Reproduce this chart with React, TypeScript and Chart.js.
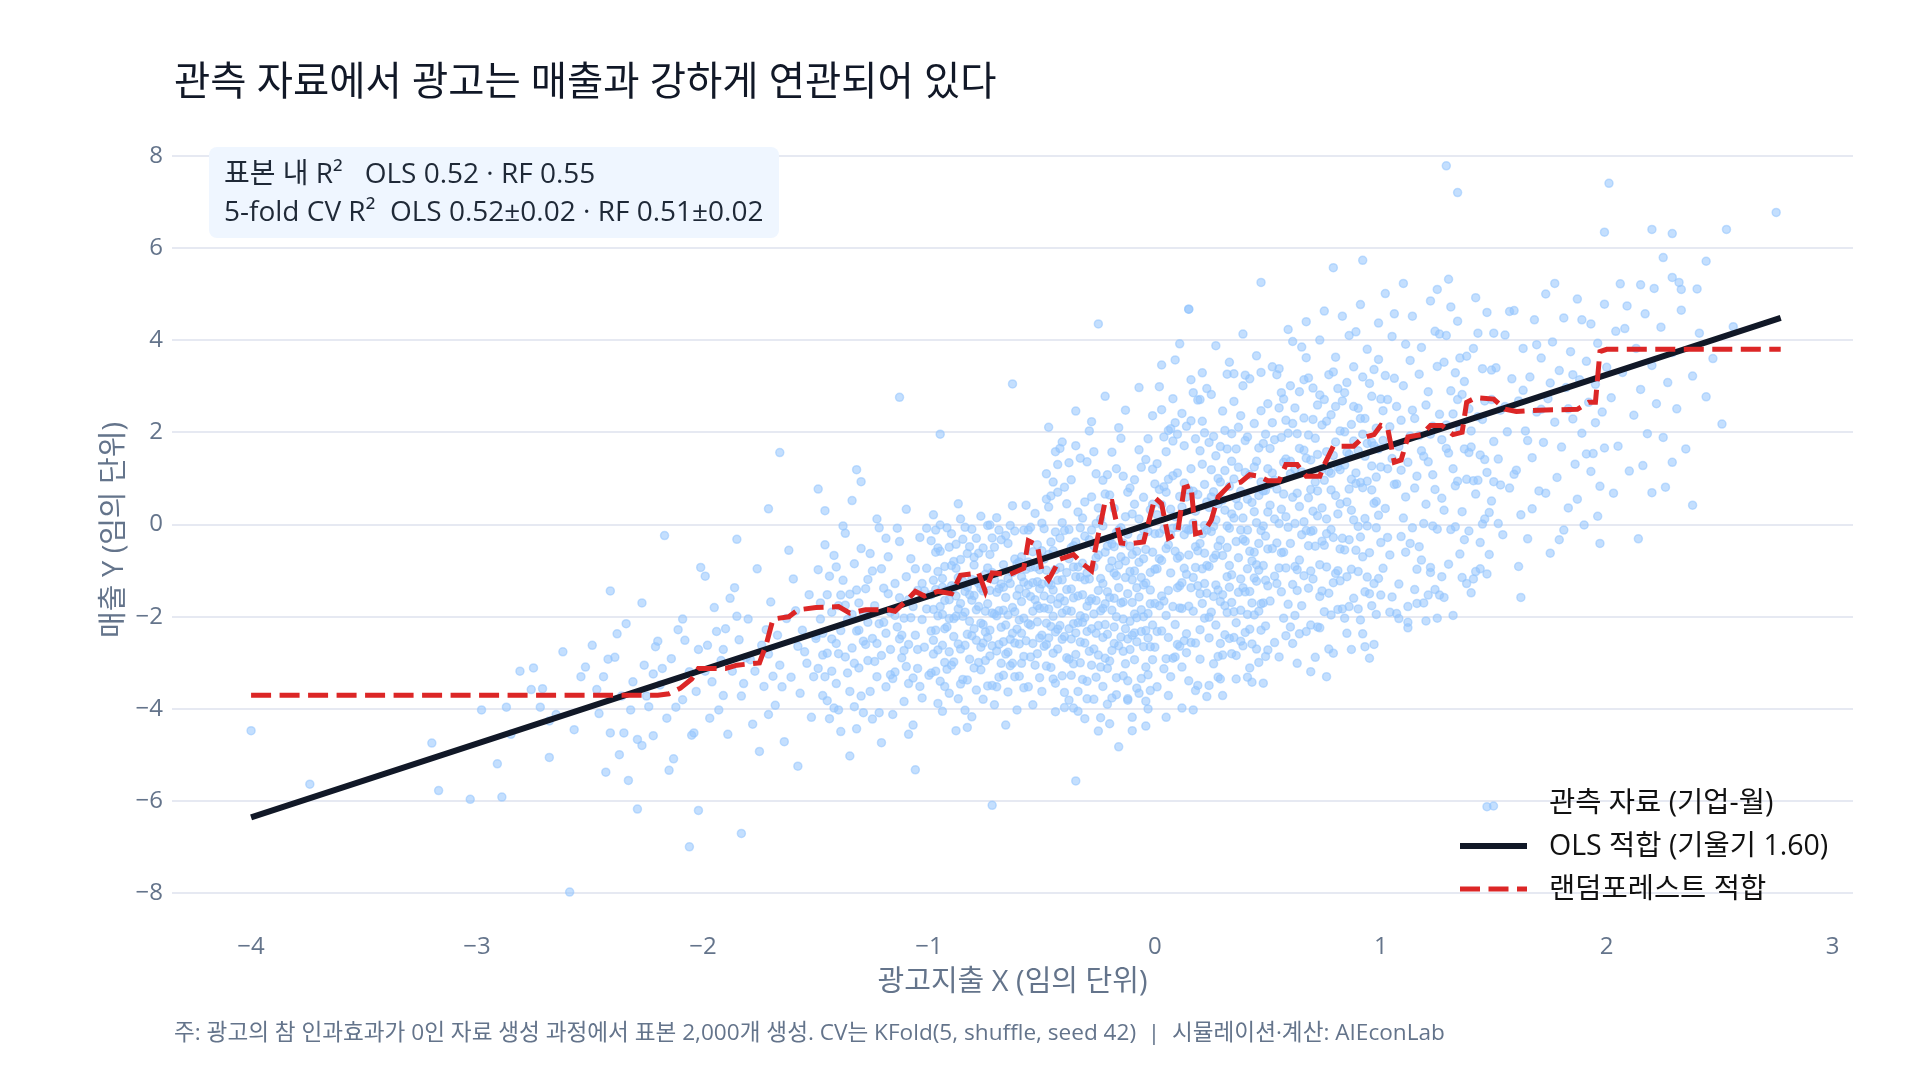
import React, { useEffect, useRef } from "react";
import { Chart, registerables } from "chart.js";

Chart.register(...registerables);

const FONT = '"Open Sans", "Noto Sans CJK KR", sans-serif';

// Axis ticks
const xTickValues = [-4, -3, -2, -1, 0, 1, 2, 3];
const yTickValues = [-8, -6, -4, -2, 0, 2, 4, 6, 8];

// Texts
const titleText = "관측 자료에서 광고는 매출과 강하게 연관되어 있다";
const xAxisTitle = "광고지출 X (임의 단위)";
const yAxisTitle = "매출 Y (임의 단위)";
const statLines = [
  "표본 내 R²   OLS 0.52 · RF 0.55",
  "5-fold CV R²  OLS 0.52±0.02 · RF 0.51±0.02",
];
const legendLabels = ["관측 자료 (기업-월)", "OLS 적합 (기울기 1.60)", "랜덤포레스트 적합"];
const noteText =
  "주: 광고의 참 인과효과가 0인 자료 생성 과정에서 표본 2,000개 생성. CV는 KFold(5, shuffle, seed 42)  |  시뮬레이션·계산: AIEconLab";

// OLS fit endpoints (slope 1.60)
const olsX = [-4.0, 2.77];
const olsY = [-6.35, 4.48];

// Random forest prediction path
const rfX = [-4.0, -2.2, -2.15, -2.1, -2.05, -2.02, -1.9, -1.85, -1.75, -1.72, -1.69, -1.62, -1.58, -1.5, -1.4, -1.35, -1.28, -1.18, -1.15, -1.1, -1.06, -1.02, -0.96, -0.9, -0.86, -0.78, -0.75, -0.72, -0.64, -0.58, -0.56, -0.52, -0.5, -0.47, -0.42, -0.36, -0.32, -0.28, -0.26, -0.22, -0.19, -0.15, -0.12, -0.05, 0.0, 0.03, 0.06, 0.1, 0.13, 0.16, 0.18, 0.22, 0.25, 0.28, 0.33, 0.38, 0.42, 0.46, 0.5, 0.55, 0.58, 0.63, 0.67, 0.73, 0.75, 0.79, 0.88, 0.92, 0.97, 1.0, 1.03, 1.06, 1.09, 1.12, 1.18, 1.22, 1.27, 1.32, 1.36, 1.38, 1.42, 1.5, 1.55, 1.6, 1.7, 1.87, 1.92, 1.95, 1.97, 2.0, 2.77];
const rfY = [-3.7, -3.7, -3.67, -3.55, -3.35, -3.12, -3.12, -3.05, -3.0, -2.6, -2.05, -2.0, -1.85, -1.8, -1.78, -1.92, -1.85, -1.85, -1.88, -1.65, -1.45, -1.55, -1.45, -1.5, -1.1, -1.05, -1.45, -1.05, -1.08, -0.95, -0.35, -0.45, -1.0, -1.2, -0.75, -0.65, -0.85, -1.0, -0.45, 0.5, 0.5, -0.4, -0.42, -0.38, 0.58, 0.45, -0.3, -0.2, 0.8, 0.85, -0.2, -0.15, 0.1, 0.6, 0.85, 0.92, 1.08, 1.05, 0.95, 0.95, 1.3, 1.3, 1.05, 1.05, 1.3, 1.7, 1.7, 1.88, 1.95, 2.15, 2.1, 1.35, 1.4, 1.9, 1.95, 2.15, 2.15, 1.95, 2.0, 2.65, 2.75, 2.72, 2.5, 2.45, 2.48, 2.5, 2.65, 2.65, 3.75, 3.8, 3.8];

// Observations: flat (x, y) pairs in hundredths of a unit
const obsTails = [-400,-447, -374,-563, -320,-474, -317,-577, -303,-596, -289,-591, -287,-396, -275,-311, -272,-396, -271,-356, -268,-426, -259,-797, -252,-309, -243,-537, -241,-144, -238,-237, -235,-452, -233,-555, -229,-617, -227,-479, -225,-372, -222,-324, -220,-253, -217,-24, -215,-533, -212,-396, -209,-205, -206,-699, -205,-457, -202,-620, -201,-93, -199,-112, -191,-271, -183,-670, -185,-32, -166,156, -171,34, -171,-412, -158,-524, -149,77, -132,119, -130,93, -113,276, -95,196, -106,-532, -109,-455, -72,-609, -63,305, -25,435, -35,-556, -12,-378, -10,-447, -4,-383, 15,467, 47,525, 79,557, 92,573, 76,-330, 69,-319, 129,778, 134,720, 201,740, 199,634, 220,640, 229,631, 225,579, 244,571, 253,640, 275,677, 215,520, 233,510, 229,536, 238,42, 229,135, 220,69, 196,18, 147,-612, 162,-158, 152,2, 122,-104, 112,-224, 125,-203];

const obsBandBelow2 = [-249,-262, -246,-410, -244,-330, -241,-452, -239,-288, -236,-372, -234,-215, -231,-341, -229,-466, -226,-305, -224,-395, -221,-265, -219,-348, -216,-420, -214,-291, -211,-228, -209,-380, -206,-319, -204,-452, -202,-271, -247,-358, -237,-499, -227,-170, -218,-312, -208,-251, -203,-362, -213,-508, -232,-402, -222,-458, -242,-292, -298,-402, -285,-455, -276,-358, -265,-412, -262,-276, -257,-445, -254,-330, -291,-519, -268,-505, -281,-318];

const obsBand20to15 = [-198,-262, -196,-341, -195,-180, -193,-402, -192,-295, -190,-226, -189,-455, -187,-318, -186,-137, -184,-250, -183,-372, -181,-289, -180,-205, -178,-433, -177,-318, -176,-96, -174,-262, -173,-351, -171,-281, -170,-168, -168,-392, -167,-240, -166,-305, -164,-471, -163,-204, -161,-331, -160,-118, -158,-264, -157,-366, -156,-229, -154,-301, -153,-152, -152,-418, -150,-247, -199,-318, -191,-371, -185,-199, -179,-293, -172,-228, -165,-352, -159,-187, -155,-276, -162,-56, -175,-492, -169,-329, -188,-160, -182,-345, -194,-232, -151,-330, -197,-420];

const obsBand15to10 = [-149,-312, -149,-98, -148,-205, -147,-371, -147,-236, -146,-44, -145,-279, -145,-152, -144,-421, -143,-190, -143,-318, -142,-67, -141,-258, -141,-345, -140,-176, -139,-230, -139,-449, -138,-121, -137,-287, -137,-19, -136,-206, -135,-362, -135,-151, -134,-268, -133,-395, -133,-85, -132,-231, -131,-311, -131,-170, -130,-52, -129,-253, -129,-408, -128,-139, -127,-295, -127,-212, -126,-362, -125,-101, -125,-247, -124,-176, -123,-330, -123,12, -122,-215, -121,-284, -121,-473, -120,-138, -119,-236, -119,-352, -118,-70, -117,-190, -117,-271, -116,-412, -115,-128, -115,-320, -114,-222, -113,-37, -113,-159, -112,-289, -111,-384, -111,-203, -110,-113, -109,-260, -109,-345, -108,-74, -107,-178, -107,-435, -106,-240, -105,-312, -105,-143, -104,-28, -103,-206, -103,-376, -102,-266, -101,-95, -101,-183, -100,-327, -148,-170, -146,-330, -144,-112, -142,-398, -140,-280, -138,-3, -136,-322, -134,-195, -132,-142, -130,-372, -128,-260, -126,-63, -124,-297, -122,-408, -120,-212, -118,-150, -116,-334, -114,-8, -112,-240, -110,-308, -108,-202, -106,-96, -104,-351, -102,-144, -147,-283, -143,-248, -139,-153, -135,-502, -131,-229, -127,-119, -123,-258, -119,-30, -115,-197, -111,-273, -107,-333, -103,-128, -145,-382, -141,-92, -137,-175, -133,-301, -129,-191, -125,-422, -121,-96, -117,-326, -113,-248, -109,-163, -105,-271, -101,-8, -150,-241, -146,30, -134,52, -122,-7, -110,33, -126,-190, -132,-443, -140,-402];

const obsBand10to05 = [-99,-152, -98,-281, -97,-60, -96,-198, -95,-340, -94,-117, -93,-226, -92,-7, -91,-163, -90,-305, -89,-243, -88,-95, -87,-378, -86,-171, -85,-32, -84,-262, -83,-136, -82,-210, -81,-417, -80,-88, -79,-185, -78,-299, -77,18, -76,-144, -75,-233, -74,-350, -73,-65, -72,-192, -71,-120, -70,-274, -69,-12, -68,-223, -67,-327, -66,-158, -65,-41, -64,-249, -63,-104, -62,-189, -61,-402, -60,-81, -59,-167, -58,-286, -57,42, -56,-131, -55,-218, -54,-59, -53,-305, -52,-176, -51,-98, -50,-240,
  -99,-35, -98,-121, -97,-229, -96,-388, -95,-178, -94,-262, -93,-91, -92,-314, -91,-49, -90,-133, -89,-204, -88,-447, -87,-115, -86,-270, -85,-199, -84,-6, -83,-337, -82,-152, -81,-241, -80,-71, -79,-359, -78,-128, -77,-214, -76,-51, -75,-295, -74,-172, -73,-229, -72,-104, -71,-391, -70,-147, -69,-260, -68,-33, -67,-186, -66,-281, -65,-117, -64,-2, -63,-236, -62,-330, -61,-154, -60,-207, -59,-70, -58,-125, -57,-252, -56,-352, -55,-93, -54,-188, -53,24, -52,-280, -51,-139, -50,-57,
  -99,-231, -98,21, -97,-318, -96,-102, -95,-58, -94,-405, -93,-165, -92,-222, -91,-276, -90,-20, -89,-137, -88,-199, -87,-259, -86,-76, -85,-336, -84,-145, -83,-63, -82,-292, -81,-119, -80,-226, -79,-30, -78,-178, -77,-315, -76,-257, -75,-108, -74,-2, -73,-285, -72,-349, -71,-49, -70,-198, -69,-139, -68,-301, -67,-87, -66,-218, -65,-363, -64,-128, -63,41, -62,-257, -61,-85, -60,-329, -59,-236, -58,-12, -57,-149, -56,-215, -55,-287, -54,-126, -53,-163, -52,-44, -51,-332, -50,-129,
  -99,-322, -98,-184, -97,-141, -96,-272, -95,-1, -94,-195, -93,-299, -92,-143, -91,-366, -90,-89, -89,-298, -88,-43, -87,-183, -86,-346, -85,-123, -84,-190, -83,-238, -82,-48, -81,-164, -80,-311, -79,-251, -78,-62, -77,-138, -76,-379, -75,-188, -74,-94, -73,-143, -72,-263, -71,-194, -70,15, -69,-331, -68,-129, -67,-254, -66,-24, -65,-196, -64,-306, -63,-180, -62,-75, -61,-227, -60,-140, -59,-301, -58,-203, -57,-97, -56,-12, -55,-156, -54,-258, -53,-92, -52,-211, -51,-182, -50,-362,
  -98,-251, -96,-51, -93,-351, -91,-204, -88,-155, -86,12, -84,-403, -81,-10, -79,-122, -77,-266, -74,-245, -72,-29, -70,-352, -67,-136, -65,-277, -63,-301, -60,-259, -58,-354, -56,-81, -54,-391, -52,-124, -50,3, -97,-12, -94,-136, -89,-80, -87,45, -83,-440, -80,-154, -76,-217, -73,-1, -69,-187, -66,-435, -62,-14, -59,-113, -55,-6, -51,-246];

const obsBand05to00 = [-49,-75, -48,-214, -47,38, -46,-131, -45,-279, -44,-16, -43,-172, -42,-93, -41,-328, -40,81, -39,-141, -38,-226, -37,-50, -36,-302, -35,-113, -34,27, -33,-198, -32,-84, -31,-257, -30,136, -29,-33, -28,-161, -27,-379, -26,-72, -25,-219, -24,12, -23,-128, -22,-290, -21,-47, -20,64, -19,-186, -18,-105, -17,-332, -16,-12, -15,-244, -14,105, -13,-79, -12,-150, -11,-271, -10,23, -9,-194, -8,-58, -7,-366, -6,-115, -5,59, -4,-230, -3,-15, -2,-142, -1,-293, 0,88,
  -49,-181, -48,55, -47,-246, -46,-38, -45,-142, -44,-344, -43,70, -42,-219, -41,-120, -40,-13, -39,-289, -38,134, -37,-188, -36,-92, -35,-235, -34,-405, -33,-7, -32,-152, -31,49, -30,-232, -29,-118, -28,-12, -27,-194, -26,110, -25,-66, -24,-309, -23,-3, -22,-172, -21,-238, -20,-94, -19,157, -18,-222, -17,-17, -16,-137, -15,-70, -14,-275, -13,17, -12,-339, -11,-102, -10,-169, -9,44, -8,-254, -7,-82, -6,124, -5,-200, -4,-127, -3,-326, -2,32, -1,-60, 0,-171,
  -49,-9, -48,-307, -47,-126, -46,-221, -45,92, -44,-98, -43,-270, -42,-29, -41,-192, -40,-364, -39,45, -38,-74, -37,-248, -36,-159, -35,171, -34,-213, -33,-114, -32,-336, -31,-25, -30,-177, -29,-275, -28,60, -27,-92, -26,-236, -25,-143, -24,-419, -23,96, -22,-60, -21,-146, -20,-296, -19,-42, -18,35, -17,-200, -16,-263, -15,187, -14,-168, -13,-226, -12,-21, -11,79, -10,-120, -9,-293, -8,-137, -7,12, -6,-232, -5,-74, -4,141, -3,-193, -2,-265, -1,44, 0,-97,
  -49,-155, -48,-99, -47,-183, -46,-310, -45,-57, -44,158, -43,-227, -42,-159, -41,4, -40,-243, -39,-104, -38,-292, -37,97, -36,-215, -35,-38, -34,-155, -33,-255, -32,14, -31,-120, -30,-340, -29,203, -28,-226, -27,-46, -26,-165, -25,36, -24,-187, -23,-245, -22,66, -21,-312, -20,-158, -19,-79, -18,-258, -17,121, -16,-88, -15,-170, -14,-40, -13,-302, -12,70, -11,-210, -10,-65, -9,97, -8,-355, -7,-157, -6,-29, -5,-265, -4,-54, -3,186, -2,-104, -1,-218, 0,-20,
  -48,110, -46,-162, -44,-233, -43,-121, -41,-249, -39,-186, -38,-11, -36,-46, -34,-92, -33,144, -31,-202, -29,-166, -27,-270, -26,2, -24,-117, -22,-217, -21,108, -19,-273, -17,-111, -16,210, -14,-205, -13,-115, -11,-47, -10,-240, -8,-202, -7,162, -5,-131, -4,-309, -2,-172, -1,120, -49,-264, -47,-65, -45,-199, -42,165, -40,-166, -37,-327, -35,-282, -32,-212, -30,-105, -28,-305, -25,-283, -23,-182, -20,-32, -18,-160, -15,-7, -12,-248, -9,-101, -6,-185, -3,-246, 0,-266,
  -47,211, -44,-406, -41,179, -38,-381, -35,246, -31,-421, -28,223, -25,-448, -22,278, -19,-376, -16,-482, -13,248, -10,-418, -7,297, -4,-437, -1,236, -45,-335, -40,-397, -34,-362, -30,-378, -26,-331, -21,-390, -17,-369, -12,-381, -6,-334, -3,-400, -48,-260, -43,130, -37,-140, -33,-300, -27,158, -23,-351, -18,-48, -14,-328, -9,-235, -5,-11, -2,-360, -46,62, -36,-398, -20,-432];

const obsBand00to05 = [1,-96, 2,76, 3,-231, 4,-10, 5,158, 6,-143, 7,33, 8,-290, 9,-58, 10,112, 11,-181, 12,241, 13,-22, 14,-108, 15,75, 16,-256, 17,3, 18,186, 19,-133, 20,-41, 21,131, 22,-203, 23,49, 24,-91, 25,282, 26,-156, 27,10, 28,-331, 29,92, 30,-67, 31,204, 32,-113, 33,-8, 34,137, 35,-245, 36,56, 37,-147, 38,236, 39,-32, 40,113, 41,-195, 42,316, 43,-79, 44,28, 45,-270, 46,166, 47,-13, 48,73, 49,-121, 50,262,
  1,132, 2,-176, 3,43, 4,-313, 5,-52, 6,204, 7,-105, 8,106, 9,-217, 10,-6, 11,61, 12,-126, 13,171, 14,-278, 15,-66, 16,121, 17,-188, 18,29, 19,270, 20,-228, 21,-96, 22,87, 23,-149, 24,178, 25,-15, 26,-302, 27,149, 28,-47, 29,-167, 30,53, 31,-239, 32,326, 33,-89, 34,-169, 35,99, 36,-37, 37,211, 38,-253, 39,14, 40,-146, 41,190, 42,-58, 43,-342, 44,125, 45,4, 46,-188, 47,247, 48,-89, 49,-25, 50,121,
  1,-232, 2,-19, 3,249, 4,82, 5,-197, 6,-44, 7,-330, 8,181, 9,17, 10,-137, 11,-264, 12,38, 13,-95, 14,213, 15,-177, 16,-10, 17,72, 18,-93, 19,-349, 20,160, 21,-20, 22,-128, 23,295, 24,-246, 25,119, 26,-73, 27,-218, 28,45, 29,-34, 30,246, 31,31, 32,-191, 33,83, 34,-280, 35,14, 36,164, 37,-72, 38,-186, 39,301, 40,-36, 41,-96, 42,108, 43,-170, 44,219, 45,-123, 46,-41, 47,-229, 48,176, 49,74, 50,-133,
  1,21, 2,-74, 3,-155, 4,190, 5,-291, 6,98, 7,-22, 8,-178, 9,221, 10,-260, 11,-69, 12,-182, 13,90, 14,-9, 15,-339, 16,225, 17,-115, 18,-48, 19,65, 20,-292, 21,224, 22,-2, 23,-89, 24,-201, 25,60, 26,191, 27,-131, 28,100, 29,-258, 30,-152, 31,117, 32,-50, 33,-247, 34,23, 35,267, 36,-213, 37,41, 38,-118, 39,-263, 40,182, 41,-12, 42,-227, 43,48, 44,-60, 45,137, 46,-299, 47,92, 48,-170, 49,196, 50,-53,
  2,299, 4,-166, 6,-245, 8,-8, 10,-73, 12,-309, 14,60, 16,-137, 18,-257, 20,-150, 22,199, 24,37, 26,71, 28,-142, 30,-283, 32,164, 34,-109, 36,-284, 38,72, 40,-234, 42,-145, 44,-196, 46,63, 48,-3, 50,-272, 1,-352, 3,-78, 5,70, 7,208, 9,-287, 11,-133, 13,-252, 15,-12, 17,286, 19,-57, 21,-171, 23,-12, 25,-190, 27,-66, 29,169, 31,-176, 33,-136, 35,-189, 37,124, 39,-137, 41,55, 43,-259, 45,-87, 47,-172, 49,-220,
  3,346, 6,-371, 9,357, 12,-398, 15,467, 18,-360, 21,329, 24,-349, 27,388, 30,-371, 33,352, 36,-335, 39,413, 42,-311, 45,366, 48,-344, 5,-418, 11,392, 17,-402, 23,-373, 29,-335, 35,327, 41,-331, 47,330, 8,273, 14,-237, 20,271, 26,-4, 32,-3, 38,-12, 44,-116, 50,27, 10,196, 22,-62, 34,197, 46,-99, 16,314, 28,-286, 40,324, 49,-286];

const obsBand05to10 = [51,87, 52,-52, 53,184, 54,-128, 55,253, 56,33, 57,-203, 58,142, 59,-6, 60,301, 61,59, 62,-91, 63,197, 64,-237, 65,114, 66,6, 67,362, 68,-138, 69,76, 70,228, 71,-47, 72,152, 73,-156, 74,36, 75,271, 76,-92, 77,115, 78,-11, 79,331, 80,63, 81,-184, 82,203, 83,-30, 84,129, 85,-113, 86,410, 87,31, 88,181, 89,-56, 90,252, 91,91, 92,-237, 93,148, 94,-3, 95,306, 96,75, 97,-128, 98,209, 99,20, 100,125,
  51,-166, 52,221, 53,12, 54,77, 55,-94, 56,286, 57,135, 58,-241, 59,198, 60,-41, 61,-130, 62,253, 63,68, 64,165, 65,-176, 66,231, 67,-13, 68,318, 69,-101, 70,29, 71,187, 72,-222, 73,281, 74,-36, 75,96, 76,158, 77,-149, 78,238, 79,-28, 80,363, 81,125, 82,-53, 83,268, 84,-203, 85,49, 86,152, 87,-97, 88,342, 89,112, 90,-4, 91,230, 92,80, 93,-146, 94,176, 95,-61, 96,278, 97,46, 98,-195, 99,164, 100,-39,
  51,165, 52,112, 53,-112, 54,325, 55,2, 56,-146, 57,66, 58,17, 59,-173, 60,137, 61,219, 62,2, 63,-143, 64,288, 65,-22, 66,-111, 67,144, 68,58, 69,-218, 70,296, 71,92, 72,19, 73,-87, 74,216, 75,-189, 76,12, 77,325, 78,111, 79,-126, 80,179, 81,23, 82,119, 83,-183, 84,286, 85,157, 86,-33, 87,217, 88,-160, 89,89, 90,-102, 91,-27, 92,196, 93,13, 94,380, 95,-150, 96,127, 97,171, 98,-7, 99,-117, 100,272,
  52,342, 54,-40, 56,189, 58,-94, 60,-222, 62,120, 64,39, 66,314, 68,-46, 70,-118, 72,259, 74,-144, 76,224, 78,-196, 80,-106, 82,45, 84,201, 86,-178, 88,10, 90,160, 92,320, 94,-114, 96,-176, 98,103, 100,-153, 53,-256, 57,272, 61,-258, 65,385, 69,140, 73,400, 77,-270, 81,295, 85,-236, 89,418, 93,-265, 97,336, 55,-287, 63,-301, 71,-288, 79,-279, 87,-271, 95,-290, 59,423, 67,440, 75,463, 83,452, 91,477, 99,437,
  51,42, 53,96, 56,-61, 58,226, 60,110, 62,-197, 64,-77, 66,161, 68,194, 70,-13, 72,73, 74,121, 76,-20, 78,75, 80,256, 82,-122, 84,-55, 86,77, 88,256, 90,-183, 92,-70, 94,94, 96,178, 98,50, 57,-60, 63,-98, 69,-15, 75,-45, 81,-100, 87,98, 93,230, 99,358, 55,338, 61,397, 67,-232, 73,-224, 79,150, 85,308, 91,-207, 97,-260];

const obsBand10to15 = [101,182, 102,35, 103,271, 104,-66, 105,143, 106,317, 107,88, 108,-129, 109,226, 110,14, 111,391, 112,135, 113,-41, 114,248, 115,79, 116,-97, 117,326, 118,160, 119,2, 120,259, 121,-153, 122,196, 123,108, 124,419, 125,-10, 126,239, 127,57, 128,352, 129,165, 130,-86, 131,290, 132,121, 133,-5, 134,441, 135,206, 136,28, 137,310, 138,-128, 139,251, 140,168, 141,382, 142,66, 143,234, 144,-39, 145,338, 146,141, 147,460, 148,26, 149,271, 150,180,
  101,-95, 102,323, 103,121, 104,212, 105,-157, 106,87, 107,256, 108,169, 109,-26, 110,301, 111,60, 112,-178, 113,192, 114,452, 115,230, 116,105, 117,-48, 118,384, 119,148, 120,44, 121,288, 122,-93, 123,213, 124,76, 125,343, 126,-153, 127,184, 128,31, 129,410, 130,155, 131,-11, 132,240, 133,329, 134,94, 135,-64, 136,282, 137,164, 138,365, 139,-14, 140,203, 141,95, 142,-102, 143,415, 144,151, 145,1, 146,268, 147,113, 148,-65, 149,335, 150,93,
  101,247, 103,-28, 105,408, 107,-193, 109,118, 111,-60, 113,356, 115,-141, 117,193, 119,-170, 121,136, 123,-3, 125,510, 127,-113, 129,216, 131,472, 133,84, 135,361, 137,-33, 139,156, 141,-118, 143,96, 145,228, 147,-107, 149,51, 102,501, 106,457, 110,523, 114,-7, 118,-77, 122,485, 126,413, 130,532, 134,271, 138,98, 142,492, 146,12, 150,415, 104,-190, 108,-204, 112,-212, 116,-171, 120,-209, 124,-141, 128,-158, 132,-197, 136,-115, 140,-148, 144,-96];

const obsBand15to20 = [151,340, 152,142, 153,248, 154,-22, 155,411, 156,201, 157,79, 158,316, 159,464, 160,118, 161,268, 162,21, 163,382, 164,203, 165,-31, 166,320, 167,145, 168,444, 169,244, 170,73, 171,361, 172,178, 173,500, 174,273, 175,-62, 176,396, 177,222, 178,102, 179,334, 180,168, 181,448, 182,297, 183,36, 184,375, 185,229, 186,131, 187,489, 188,314, 189,198, 190,-1, 191,354, 192,265, 193,435, 194,154, 195,304, 196,393, 197,83, 198,244, 199,478, 200,341, 153,86, 157,462, 161,-91, 165,182, 169,390, 173,68, 177,523, 181,-12, 185,325, 189,444, 193,115, 197,-41, 155,256, 159,109, 163,291, 167,34, 171,250, 175,307, 179,-33, 183,251, 187,55, 191,153, 195,221, 199,166];

const obsBandAbove2 = [202,275, 204,419, 205,170, 207,330, 208,425, 210,116, 212,237, 213,382, 215,293, 217,457, 218,197, 220,345, 222,262, 224,428, 225,189, 227,308, 229,373, 231,251, 233,465, 235,164, 238,322, 241,415, 244,277, 247,360, 251,218, 256,429, 203,68, 209,474, 214,-31, 221,512, 226,81, 232,525, 216,128, 206,522, 240,511];

const obsBands = [obsTails, obsBandBelow2, obsBand20to15, obsBand15to10, obsBand10to05, obsBand05to00, obsBand00to05, obsBand05to10, obsBand10to15, obsBand15to20, obsBandAbove2];

const COLORS = {
  point: "rgba(147, 197, 253, 0.55)",
  ols: "#111827",
  rf: "#dc2626",
  grid: "#e6e9f2",
  tick: "#64748b",
  title: "#111827",
  text: "#1f2937",
  boxBg: "#eff6ff",
};

function pairsToPoints(list: number[]) {
  const pts: { x: number; y: number }[] = [];
  for (let i = 0; i + 1 < list.length; i += 2) {
    pts.push({ x: list[i] / 100, y: list[i + 1] / 100 });
  }
  return pts;
}

const fmtTick = (v: number) => (v < 0 ? "\u2212" + Math.abs(v) : String(v));

// Text, stats box and legend drawn on top of the chart
const decorPlugin = {
  id: "decor",
  afterDraw(chart: any) {
    const ctx = chart.ctx as CanvasRenderingContext2D;
    const area = chart.chartArea;
    ctx.save();

    // title
    ctx.fillStyle = COLORS.title;
    ctx.font = `39.4px ${FONT}`;
    ctx.textAlign = "left";
    ctx.textBaseline = "middle";
    ctx.fillText(titleText, 174, 84);

    // stats box
    ctx.fillStyle = COLORS.boxBg;
    ctx.beginPath();
    (ctx as any).roundRect(209, 147, 570, 91, 8);
    ctx.fill();
    ctx.fillStyle = COLORS.text;
    ctx.font = `28px ${FONT}`;
    ctx.fillText(statLines[0], 224, 175);
    ctx.fillText(statLines[1], 224, 213);

    // axis titles
    ctx.fillStyle = COLORS.tick;
    ctx.font = `29px ${FONT}`;
    ctx.textAlign = "center";
    ctx.fillText(xAxisTitle, (area.left + area.right) / 2, 983);
    ctx.save();
    ctx.translate(115, (area.top + area.bottom) / 2 + 2);
    ctx.rotate(-Math.PI / 2);
    ctx.fillText(yAxisTitle, 0, 0);
    ctx.restore();

    // footnote
    ctx.textAlign = "left";
    ctx.font = `22.6px ${FONT}`;
    ctx.fillText(noteText, 174, 1034);

    // legend
    const symL = 1460;
    const symR = 1527;
    ctx.beginPath();
    ctx.arc((symL + symR) / 2, 806, 4, 0, Math.PI * 2);
    ctx.fillStyle = COLORS.point;
    ctx.fill();
    ctx.lineWidth = 1.5;
    ctx.strokeStyle = COLORS.point;
    ctx.stroke();

    ctx.beginPath();
    ctx.moveTo(symL, 846);
    ctx.lineTo(symR, 846);
    ctx.lineWidth = 6;
    ctx.strokeStyle = COLORS.ols;
    ctx.stroke();

    ctx.beginPath();
    ctx.setLineDash([20, 8.5]);
    ctx.moveTo(symL, 889);
    ctx.lineTo(symR, 889);
    ctx.lineWidth = 5;
    ctx.strokeStyle = COLORS.rf;
    ctx.stroke();
    ctx.setLineDash([]);

    const rows = [804, 847, 890];
    ctx.fillStyle = "#111111";
    ctx.font = `28.5px ${FONT}`;
    legendLabels.forEach((label, i) => ctx.fillText(label, 1549, rows[i]));

    ctx.restore();
  },
};

export default function App() {
  const canvasRef = useRef<HTMLCanvasElement | null>(null);

  useEffect(() => {
    const canvas = canvasRef.current;
    if (!canvas) return;

    const scatterPoints = obsBands.flatMap((band) => pairsToPoints(band));
    const olsPoints = olsX.map((x, i) => ({ x, y: olsY[i] }));
    const rfPoints = rfX.map((x, i) => ({ x, y: rfY[i] }));

    const chart = new Chart(canvas, {
      type: "scatter",
      data: {
        datasets: [
          {
            label: legendLabels[0],
            data: scatterPoints,
            pointRadius: 4,
            pointBackgroundColor: COLORS.point,
            pointBorderColor: COLORS.point,
            pointBorderWidth: 1.5,
            order: 3,
          },
          {
            label: legendLabels[1],
            data: olsPoints,
            showLine: true,
            borderColor: COLORS.ols,
            borderWidth: 6,
            pointRadius: 0,
            order: 2,
          },
          {
            label: legendLabels[2],
            data: rfPoints,
            showLine: true,
            borderColor: COLORS.rf,
            borderWidth: 5,
            borderDash: [20, 8.5],
            pointRadius: 0,
            tension: 0,
            order: 1,
          },
        ],
      },
      options: {
        animation: false,
        responsive: false,
        devicePixelRatio: 1,
        events: [],
        layout: { padding: { top: 128, right: 67, bottom: 0, left: 0 } },
        plugins: {
          legend: { display: false },
          title: { display: false },
          tooltip: { enabled: false },
        },
        scales: {
          x: {
            type: "linear",
            min: -4.35,
            max: 3.09,
            afterBuildTicks: (scale: any) => {
              scale.ticks = xTickValues.map((v) => ({ value: v }));
            },
            afterFit: (scale: any) => {
              scale.height = 152;
            },
            grid: { display: false, drawTicks: false },
            border: { display: false },
            ticks: {
              padding: 5,
              color: COLORS.tick,
              font: { family: FONT, size: 24 },
              callback: (v: any) => fmtTick(Number(v)),
            },
          },
          y: {
            type: "linear",
            min: -8.75,
            max: 8.6,
            afterBuildTicks: (scale: any) => {
              scale.ticks = yTickValues.map((v) => ({ value: v }));
            },
            afterFit: (scale: any) => {
              scale.width = 172;
            },
            grid: { color: COLORS.grid, lineWidth: 2, drawTicks: false },
            border: { display: false },
            ticks: {
              padding: 9,
              color: COLORS.tick,
              font: { family: FONT, size: 24 },
              callback: (v: any) => fmtTick(Number(v)),
            },
          },
        },
      },
      plugins: [decorPlugin],
    });

    return () => chart.destroy();
  }, []);

  return (
    <div style={{ position: "fixed", left: 0, top: 0, width: 1920, height: 1080, background: "#ffffff" }}>
      <canvas ref={canvasRef} width={1920} height={1080} style={{ width: 1920, height: 1080, display: "block" }} />
    </div>
  );
}
